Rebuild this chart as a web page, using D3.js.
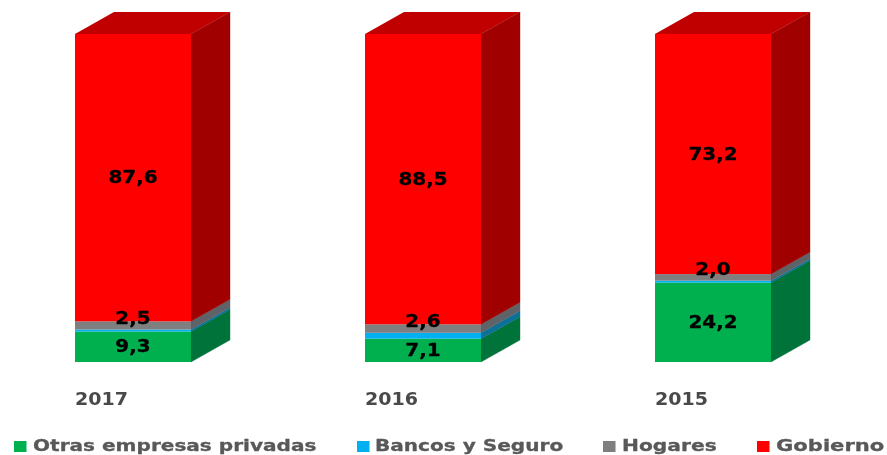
<!DOCTYPE html>
<html>
<head>
<meta charset="utf-8">
<script src="https://cdn.jsdelivr.net/npm/d3@7/dist/d3.min.js"></script>
<style>
html,body{margin:0;padding:0;background:#fff;}
svg{display:block;}
text{font-family:"DejaVu Sans",sans-serif;font-weight:700;}
</style>
</head>
<body>
<svg id="c" width="887" height="455"></svg>
<script>
const years = ["2017","2016","2015"];
const seriesNames = ["Otras empresas privadas","Bancos y Seguro","Hogares","Gobierno"];
const otras = [9.3,7.1,24.2];
const bancos = [0.6,1.8,0.6];
const hogares = [2.5,2.6,2.0];
const gobierno = [87.6,88.5,73.2];
const labelled = [true,false,true,true];
const frontColors = ["#00b050","#00b0f0","#7f7f7f","#ff0000"];
const sideColors = ["#00733a","#0a6f96","#5f6468","#a00000"];
const topColor = "#c00000";

const values = [otras,bancos,hogares,gobierno];
const svg = d3.select("#c");
const defs = svg.append("defs");
defs.append("filter").attr("id","soft").attr("x","-5%").attr("y","-5%").attr("width","110%").attr("height","110%")
  .append("feGaussianBlur").attr("stdDeviation",0.7);

const x = d3.scaleBand().domain(years).range([75,771]).paddingInner(0.6).paddingOuter(0);
const y = d3.scaleLinear().domain([0,100]).range([362,34]);
const dx = 39, dy = -22;

const root = svg.append("g").attr("filter","url(#soft)");

function stretch(sel, k){
  sel.each(function(d,i){
    const w = this.getComputedTextLength();
    const f = typeof k === "function" ? k(d,i) : k;
    d3.select(this).attr("textLength",w*f).attr("lengthAdjust","spacingAndGlyphs");
  });
}

const stacked = years.map((yr,i)=>{
  let acc = 0;
  return values.map((v,s)=>{
    const d = {year:yr,s,v:v[i],y0:acc,y1:acc+v[i]};
    acc += v[i];
    return d;
  });
});

stacked.forEach(col=>{
  const g = root.append("g");
  const x0 = x(col[0].year), x1 = x0 + x.bandwidth();
  g.selectAll("polygon.side").data(col).join("polygon").attr("class","side")
    .attr("fill",d=>sideColors[d.s])
    .attr("stroke",d=>sideColors[d.s]).attr("stroke-width",0.4)
    .attr("points",d=>[[x1,y(d.y0)],[x1+dx,y(d.y0)+dy],[x1+dx,y(d.y1)+dy],[x1,y(d.y1)]].join(" "));
  g.selectAll("rect.front").data(col).join("rect").attr("class","front")
    .attr("x",x0).attr("width",x.bandwidth())
    .attr("y",d=>y(d.y1)).attr("height",d=>y(d.y0)-y(d.y1))
    .attr("fill",d=>frontColors[d.s]);
  const top = col[col.length-1].y1;
  g.append("polygon").attr("fill",topColor)
    .attr("points",[[x0,y(top)],[x0+dx,y(top)+dy],[x1+dx,y(top)+dy],[x1,y(top)]].join(" "));
  g.selectAll("text.val").data(col.filter(d=>labelled[d.s])).join("text").attr("class","val")
    .attr("x",(x0+x1)/2)
    .attr("y",d=>(y(d.y0)+y(d.y1))/2 + (d.s===2 ? -8 : -0.5))
    .attr("dy","0.36em").attr("text-anchor","middle")
    .attr("font-size",17).attr("fill","#000")
    .attr("stroke","#000").attr("stroke-width",0.3)
    .text(d=>d.v.toFixed(1).replace(".",","))
    .call(stretch,1.17);
});

root.selectAll("text.yr").data(years).join("text").attr("class","yr")
  .attr("x",d=>x(d)).attr("y",405)
  .attr("font-size",17).attr("fill","#4a4a4a")
  .text(d=>d)
  .call(stretch,1.12);

const legendSwatchX = [14,357,603,757];
const legendTextX = [33,375,622,776];
const legendStretch = [1.254,1.254,1.264,1.318];
const leg = root.selectAll("g.leg").data(seriesNames).join("g").attr("class","leg");
leg.append("rect").attr("x",(d,i)=>legendSwatchX[i]).attr("y",441).attr("width",12.5).attr("height",11)
  .attr("fill",(d,i)=>frontColors[i]);
leg.append("text").attr("x",(d,i)=>legendTextX[i]).attr("y",451)
  .attr("font-size",16).attr("fill","#595959")
  .attr("stroke","#595959").attr("stroke-width",0.3)
  .text(d=>d)
  .call(stretch,(d,i)=>legendStretch[i]);
</script>
</body>
</html>
